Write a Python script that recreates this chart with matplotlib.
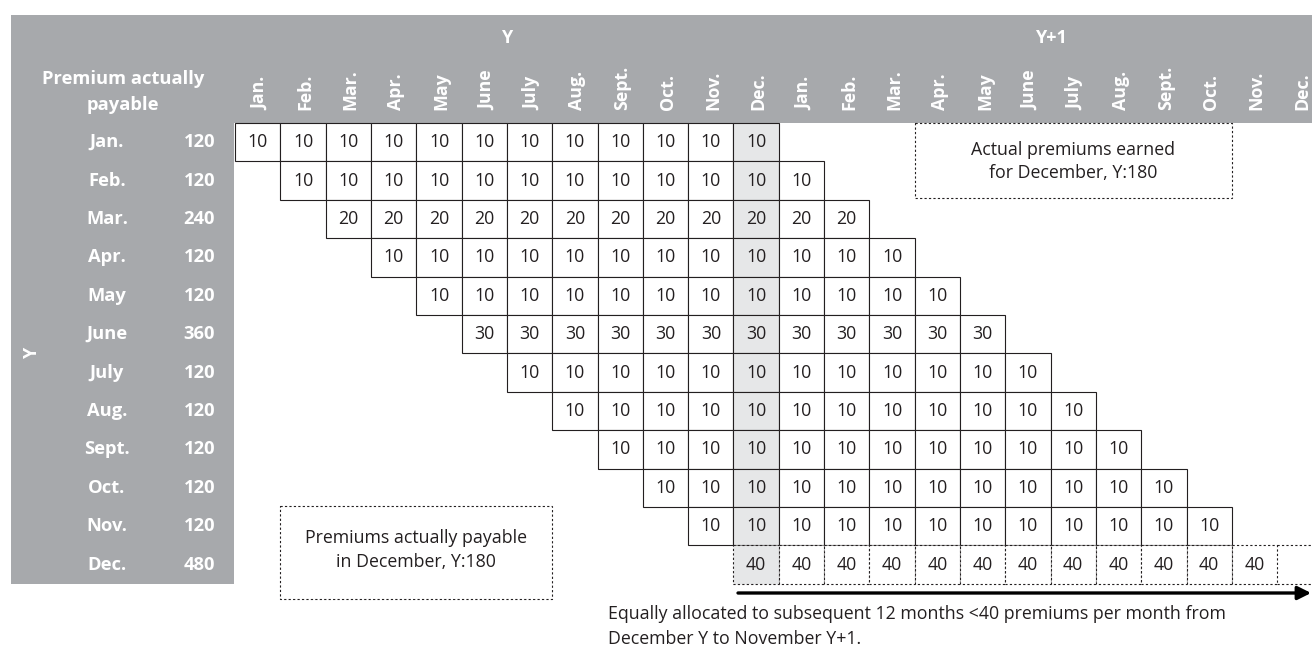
import matplotlib.pyplot as plt
from matplotlib.patches import Rectangle

plt.rcParams['font.family'] = ['Open Sans', 'DejaVu Sans']

# data
months = ['Jan.', 'Feb.', 'Mar.', 'Apr.', 'May', 'June', 'July', 'Aug.',
          'Sept.', 'Oct.', 'Nov.', 'Dec.']
payable = [120, 120, 240, 120, 120, 360, 120, 120, 120, 120, 120, 480]
earned = [10, 10, 20, 10, 10, 30, 10, 10, 10, 10, 10, 40]   # premium per month
header_months = months + months
year_labels = ['Y', 'Y+1']
panel_title = 'Premium actually\npayable'
box_payable = 'Premiums actually payable\nin December, Y:180'
box_earned = 'Actual premiums earned\nfor December, Y:180'
note = ('Equally allocated to subsequent 12 months <40 premiums per month from\n'
        'December Y to November Y+1.')

gray = '#a7a9ac'
shade = '#e6e7e8'
line_c = '#231f20'
dash = (0, (2, 2))

fig = plt.figure(figsize=(13.12, 6.46), dpi=100)
ax = fig.add_axes([0, 0, 1, 1])
x0, x1, y0, y1 = -5.19, 23.77, -3.2, 13.62
ax.set_xlim(x0, x1)
ax.set_ylim(y1, y0)
ax.axis('off')

# gray header and left panel
ax.add_patch(Rectangle((-4.945, -2.81), x1 + 5.0, 2.81, fc=gray, ec='none'))
ax.add_patch(Rectangle((-4.945, 0), 4.925, 12, fc=gray, ec='none'))

ax.text(-2.48, -0.81, panel_title, ha='center', va='center', color='white',
        fontsize=13.2, fontweight='bold', linespacing=1.6)
for i, lab in enumerate(year_labels):
    ax.text(6 + 12 * i, -2.2, lab, ha='center', va='center', color='white',
            fontsize=13, fontweight='bold')
for c, lab in enumerate(header_months):
    ax.text(c + 0.55, -0.33, lab, ha='center', va='bottom', rotation=90,
            color='white', fontsize=12.8, fontweight='bold')
ax.text(-4.48, 6.0, 'Y', ha='center', va='center', rotation=90, color='white',
        fontsize=13, fontweight='bold')
for r, (m, p) in enumerate(zip(months, payable)):
    ax.text(-2.83, r + 0.5, m, ha='center', va='center', color='white',
            fontsize=13.2, fontweight='bold')
    ax.text(-0.44, r + 0.5, str(p), ha='right', va='center', color='white',
            fontsize=13.2, fontweight='bold')

# staircase of monthly allocations
for r, v in enumerate(earned):
    last = r == len(earned) - 1
    for k in range(12):
        c = r + k
        fc = shade if c == 11 else 'white'
        ax.add_patch(Rectangle((c, r), 1, 1, fc=fc, ec=line_c,
                               lw=0.8, ls=dash if last else '-'))
        ax.text(c + 0.5, r + 0.5, str(v), ha='center', va='center',
                fontsize=12.8, color='#231f20')
# open dashed continuation of the last row
ax.plot([23, x1], [11, 11], color=line_c, lw=0.8, ls=dash)
ax.plot([23, x1], [12, 12], color=line_c, lw=0.8, ls=dash)

# dashed annotation boxes
ax.add_patch(Rectangle((1, 9.97), 6, 2.43, fc='none', ec=line_c, lw=0.8, ls=dash))
ax.text(4, 11.12, box_payable, ha='center', va='center', fontsize=12.8,
        color='#231f20', linespacing=1.4)
ax.add_patch(Rectangle((15, 0), 7, 1.95, fc='none', ec=line_c, lw=0.8, ls=dash))
ax.text(18.5, 1.0, box_earned, ha='center', va='center', fontsize=12.8,
        color='#231f20', linespacing=1.4)

# arrow and note
ax.annotate('', xy=(x1 - 0.02, 12.24), xytext=(11.1, 12.24),
            arrowprops=dict(arrowstyle='-|>', lw=2.4, color='black',
                            mutation_scale=20, shrinkA=0, shrinkB=0))
ax.text(8.23, 13.1, note, ha='left', va='center', fontsize=12.75,
        color='#231f20', linespacing=1.5)

fig.savefig('out.png', dpi=100)
